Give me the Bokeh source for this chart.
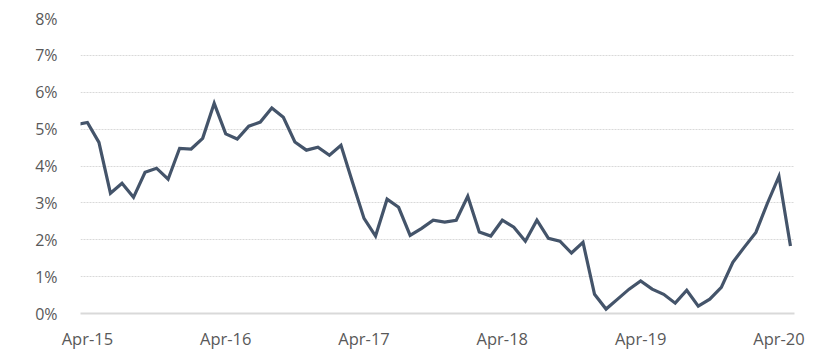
from bokeh.plotting import figure
from bokeh.models import Range1d, FixedTicker, ColumnDataSource
from bokeh.embed import file_html
from bokeh.resources import INLINE

# Monthly series, Mar-15 .. May-20 (percent)
months = ["Mar-15",
          "Apr-15", "May-15", "Jun-15", "Jul-15", "Aug-15", "Sep-15", "Oct-15", "Nov-15", "Dec-15",
          "Jan-16", "Feb-16", "Mar-16", "Apr-16", "May-16", "Jun-16", "Jul-16", "Aug-16", "Sep-16",
          "Oct-16", "Nov-16", "Dec-16", "Jan-17", "Feb-17", "Mar-17", "Apr-17", "May-17", "Jun-17",
          "Jul-17", "Aug-17", "Sep-17", "Oct-17", "Nov-17", "Dec-17", "Jan-18", "Feb-18", "Mar-18",
          "Apr-18", "May-18", "Jun-18", "Jul-18", "Aug-18", "Sep-18", "Oct-18", "Nov-18", "Dec-18",
          "Jan-19", "Feb-19", "Mar-19", "Apr-19", "May-19", "Jun-19", "Jul-19", "Aug-19", "Sep-19",
          "Oct-19", "Nov-19", "Dec-19", "Jan-20", "Feb-20", "Mar-20", "Apr-20", "May-20"]
values = [5.12,
          5.18, 4.64, 3.26, 3.53, 3.15, 3.83, 3.94, 3.64, 4.48,
          4.46, 4.75, 5.70, 4.87, 4.73, 5.08, 5.19, 5.57, 5.32,
          4.65, 4.43, 4.51, 4.29, 4.56, 3.56, 2.58, 2.10, 3.10,
          2.88, 2.12, 2.31, 2.53, 2.48, 2.53, 3.18, 2.21, 2.10,
          2.53, 2.34, 1.96, 2.53, 2.04, 1.96, 1.64, 1.93, 0.52,
          0.12, 0.39, 0.66, 0.88, 0.66, 0.52, 0.28, 0.63, 0.20,
          0.39, 0.71, 1.39, 1.80, 2.20, 2.99, 3.72, 1.83]

x_tick_labels = ["Apr-15", "Apr-16", "Apr-17", "Apr-18", "Apr-19", "Apr-20"]
y_ticks = [0, 1, 2, 3, 4, 5, 6, 7, 8]
y_tick_labels = ["0%", "1%", "2%", "3%", "4%", "5%", "6%", "7%", "8%"]

xs = list(range(len(months)))
src = ColumnDataSource(dict(x=xs, y=values, m=months))

x_ticks = [months.index(lbl) for lbl in x_tick_labels]

p = figure(frame_width=714, frame_height=295, output_backend="svg", toolbar_location=None,
           x_range=Range1d(0.4, 62.35), y_range=Range1d(0, 8),
           min_border_left=80, min_border_right=28, min_border_top=18, min_border_bottom=28)
p.outline_line_color = None
p.background_fill_color = "white"
p.border_fill_color = "white"

p.line("x", "y", source=src, line_color="#44546A", line_width=3.2, line_join="miter")

FONT = "Open Sans"
p.xaxis.ticker = FixedTicker(ticks=x_ticks)
p.xaxis.major_label_overrides = {t: l for t, l in zip(x_ticks, x_tick_labels)}
p.xaxis.axis_line_color = "#D9D9D9"
p.xaxis.axis_line_width = 1.8
p.xaxis.major_tick_line_color = None
p.xaxis.minor_tick_line_color = None
p.xaxis.major_label_text_font = FONT
p.xaxis.major_label_text_font_size = "16.5px"
p.xaxis.major_label_text_color = "#595959"
p.xaxis.major_label_standoff = 7

p.yaxis.ticker = FixedTicker(ticks=y_ticks)
p.yaxis.major_label_overrides = {t: l for t, l in zip(y_ticks, y_tick_labels)}
p.yaxis.axis_line_color = None
p.yaxis.major_tick_line_color = None
p.yaxis.minor_tick_line_color = None
p.yaxis.major_label_text_font = FONT
p.yaxis.major_label_text_font_size = "16px"
p.yaxis.major_label_text_color = "#595959"
p.yaxis.major_label_standoff = 17

p.xgrid.grid_line_color = None
p.ygrid.grid_line_color = "#D9D9D9"
p.ygrid.grid_line_dash = "2 1"
p.ygrid.grid_line_width = 1

open("out.html", "w").write(file_html(p, INLINE))
